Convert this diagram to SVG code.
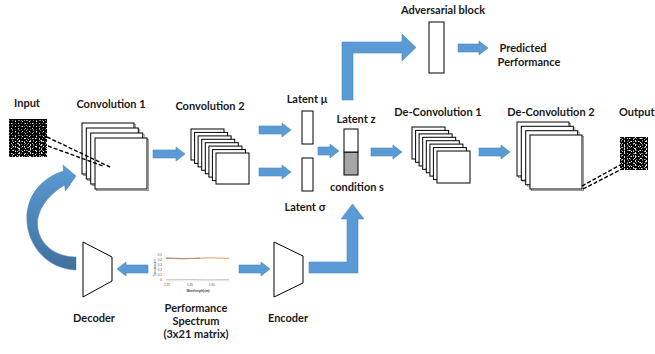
<svg xmlns="http://www.w3.org/2000/svg" width="655" height="354" viewBox="0 0 655 354">
<style>
.t{font-family:Lato,"Liberation Sans",sans-serif;font-weight:bold;font-size:11px;fill:#1a1a1a;text-anchor:middle}
.fm{fill:#fff;stroke:#000;stroke-width:1}
.sh{fill:none;stroke:#9a9a9a;stroke-width:1}
.ar{fill:#5b9bd5;stroke:#4a86c0;stroke-width:0.6}
.ds{fill:none;stroke:#000;stroke-width:1.4;stroke-dasharray:4 2}
.tiny{font-family:"Liberation Sans",sans-serif;font-size:3px;fill:#444}
</style>
<defs>
<pattern id="nz1" width="7" height="5" patternUnits="userSpaceOnUse">
<rect x="1" y="1" width="1" height="1" fill="#fff"/><rect x="4" y="3" width="1" height="1" fill="#ccc"/><rect x="5" y="0" width="1" height="1" fill="#888"/>
</pattern>
<pattern id="nz2" width="3" height="3" patternUnits="userSpaceOnUse">
<rect x="0" y="0" width="1" height="1" fill="#777"/>
</pattern>
<pattern id="nz3" width="11" height="4" patternUnits="userSpaceOnUse">
<rect x="2" y="2" width="1" height="1" fill="#fff"/><rect x="8" y="0" width="1" height="2" fill="#ddd"/><rect x="6" y="3" width="1" height="1" fill="#bbb"/>
</pattern>
<linearGradient id="cg" x1="0" y1="0" x2="0" y2="1">
<stop offset="0" stop-color="#5b9bd5"/><stop offset="1" stop-color="#41719c"/>
</linearGradient>
</defs>

<g id="input">
<rect x="9" y="119" width="38" height="38" fill="#000"/>
<rect x="9" y="119" width="38" height="38" fill="url(#nz2)"/>
<rect x="9" y="119" width="38" height="38" fill="url(#nz1)"/>
<rect x="9" y="138" width="38" height="19" fill="url(#nz3)"/>
<text class="t" x="27" y="107">Input</text>
</g>

<g id="conv1">
<rect class="sh" x="83.5" y="124.5" width="52" height="51"/><rect class="fm" x="82" y="123" width="52" height="51"/>
<rect class="sh" x="87.8" y="129.5" width="52" height="51"/><rect class="fm" x="86.3" y="128" width="52" height="51"/>
<rect class="sh" x="92.2" y="134.5" width="52" height="51"/><rect class="fm" x="90.7" y="133" width="52" height="51"/>
<rect class="sh" x="96.5" y="139.5" width="52" height="51"/><rect class="fm" x="95" y="138" width="52" height="51"/>
<text class="t" x="111" y="108">Convolution 1</text>
</g>

<g id="conv2">
<rect class="fm" x="191" y="129" width="33" height="31"/>
<rect class="fm" x="194.6" y="132.4" width="33" height="31"/>
<rect class="fm" x="198.1" y="135.9" width="33" height="31"/>
<rect class="fm" x="201.7" y="139.3" width="33" height="31"/>
<rect class="fm" x="205.3" y="142.7" width="33" height="31"/>
<rect class="fm" x="208.9" y="146.1" width="33" height="31"/>
<rect class="fm" x="212.4" y="149.6" width="33" height="31"/>
<rect class="fm" x="216" y="153" width="33" height="31"/>
<text class="t" x="210" y="110">Convolution 2</text>
</g>

<g id="latent-mu">
<rect class="fm" x="302" y="111" width="11" height="33"/>
<text class="t" x="307" y="103">Latent μ</text>
</g>
<g id="latent-sigma">
<rect class="fm" x="302" y="158" width="11" height="33"/>
<text class="t" x="305" y="211">Latent σ</text>
</g>
<g id="latent-z">
<rect x="344" y="152" width="14" height="23" fill="#a6a6a6" stroke="#000"/>
<rect class="fm" x="344" y="129" width="14" height="23"/>
<text class="t" x="356" y="123">Latent z</text>
<text class="t" x="357" y="191">condition s</text>
</g>

<g id="adversarial">
<rect class="fm" x="429" y="22" width="15" height="51"/>
<text class="t" x="443" y="14">Adversarial block</text>
</g>
<g id="predicted">
<text class="t" x="523" y="52">Predicted</text>
<text class="t" x="529" y="66">Performance</text>
</g>

<g id="deconv1">
<rect class="fm" x="412" y="127" width="33" height="32"/>
<rect class="fm" x="415.6" y="130.4" width="33" height="32"/>
<rect class="fm" x="419.1" y="133.9" width="33" height="32"/>
<rect class="fm" x="422.7" y="137.3" width="33" height="32"/>
<rect class="fm" x="426.3" y="140.7" width="33" height="32"/>
<rect class="fm" x="429.9" y="144.1" width="33" height="32"/>
<rect class="fm" x="433.4" y="147.6" width="33" height="32"/>
<rect class="fm" x="437" y="151" width="33" height="32"/>
<text class="t" x="438" y="116">De-Convolution 1</text>
</g>

<g id="deconv2">
<rect class="sh" x="518.5" y="123.5" width="52" height="54"/><rect class="fm" x="517" y="122" width="52" height="54"/>
<rect class="sh" x="522.8" y="127.8" width="52" height="54"/><rect class="fm" x="521.3" y="126.3" width="52" height="54"/>
<rect class="sh" x="527.2" y="132.2" width="52" height="54"/><rect class="fm" x="525.7" y="130.7" width="52" height="54"/>
<rect class="sh" x="531.5" y="136.5" width="52" height="54"/><rect class="fm" x="530" y="135" width="52" height="54"/>
<text class="t" x="551" y="116">De-Convolution 2</text>
</g>

<g id="output">
<rect x="620" y="137" width="28" height="33" fill="#000"/>
<rect x="620" y="137" width="28" height="33" fill="url(#nz2)"/>
<rect x="620" y="137" width="28" height="33" fill="url(#nz1)"/>
<rect x="620" y="137" width="28" height="33" fill="url(#nz3)"/>
<text class="t" x="619" y="116" style="text-anchor:start">Output</text>
</g>

<g id="decoder">
<polygon points="83,242 112,257 112,281 83,297" fill="#fff" stroke="#000" stroke-width="1"/>
<text class="t" x="94" y="322">Decoder</text>
</g>

<g id="encoder">
<polygon points="274,242 303,256 303,283 274,297" fill="#fff" stroke="#000" stroke-width="1"/>
<text class="t" x="288" y="322">Encoder</text>
</g>

<g id="spectrum">
<line x1="164" y1="254" x2="164" y2="281" stroke="#d9d9d9" stroke-width="0.4"/>
<line x1="164" y1="281" x2="231" y2="281" stroke="#d9d9d9" stroke-width="0.4"/>
<text class="tiny" x="162" y="255.5" text-anchor="end">0.5</text>
<text class="tiny" x="162" y="260.6" text-anchor="end">0.4</text>
<text class="tiny" x="162" y="265.7" text-anchor="end">0.3</text>
<text class="tiny" x="162" y="270.8" text-anchor="end">0.2</text>
<text class="tiny" x="162" y="275.9" text-anchor="end">0.1</text>
<text class="tiny" x="162" y="281" text-anchor="end">0</text>
<text class="tiny" x="0" y="0" transform="translate(156,268) rotate(-90)" text-anchor="middle">Transmission</text>
<polyline points="166,279.8 190,279.6 210,279.9 229,279.7" fill="none" stroke="#a5a5a5" stroke-width="0.7"/>
<polyline points="166,258 185,258.6 200,258.2" fill="none" stroke="#4472c4" stroke-width="0.8"/>
<polyline points="166,258.3 180,258.8 195,258.4 210,257.8 229,258.4" fill="none" stroke="#ed7d31" stroke-width="0.8"/>
<text class="tiny" x="167" y="286" text-anchor="middle">1.25</text>
<text class="tiny" x="190" y="286" text-anchor="middle">1.45</text>
<text class="tiny" x="212" y="286" text-anchor="middle">1.65</text>
<text class="tiny" x="198" y="292" text-anchor="middle" font-weight="bold">Wavelength(um)</text>
<text class="t" x="196" y="312">Performance</text>
<text class="t" x="196" y="325">Spectrum</text>
<text class="t" x="196" y="338">(3x21 matrix)</text>
</g>

<g id="connectors">
<line class="ds" x1="47" y1="137" x2="110" y2="167"/>
<line class="ds" x1="48" y1="146" x2="103" y2="166"/>
<line class="ds" x1="582" y1="186" x2="622" y2="164"/>
<line class="ds" x1="583" y1="189" x2="622" y2="169"/>
<polygon class="ar" points="153,150 176,150 176,147 185,154 176,161 176,158 153,158"/>
<polygon class="ar" points="259,126 282,126 282,123 291,130 282,137 282,134 259,134"/>
<polygon class="ar" points="259,168 282,168 282,165 291,172 282,179 282,176 259,176"/>
<polygon class="ar" points="318,147 330,147 330,144 339,151 330,158 330,155 318,155"/>
<polygon class="ar" points="371,148 393,148 393,145 402,152 393,159 393,156 371,156"/>
<polygon class="ar" points="479,148 501,148 501,145 510,152 501,159 501,156 479,156"/>
<polygon class="ar" points="458,44 479,44 479,41 488,48 479,55 479,52 458,52"/>
<polygon class="ar" points="239,265 261,265 261,262 270,269 261,276 261,273 239,273"/>
<polygon class="ar" points="148,265 126,265 126,262 117,269 126,276 126,273 148,273"/>
<polygon class="ar" points="342,100 342,42 402,42 402,34 416,47.5 402,61 402,53 353,53 353,100"/>
<polygon class="ar" points="309,262 347,262 347,219 341,219 352.5,204 364,219 358,219 358,273 309,273"/>
<path d="M76,257 C38,257 18,214 64.5,185 L65.5,191 L76,176 L63,165 L63.5,171 C5,190 22,268 76,270 Z" fill="url(#cg)" stroke="#4a7fb5" stroke-width="0.5"/>
</g>
</svg>
